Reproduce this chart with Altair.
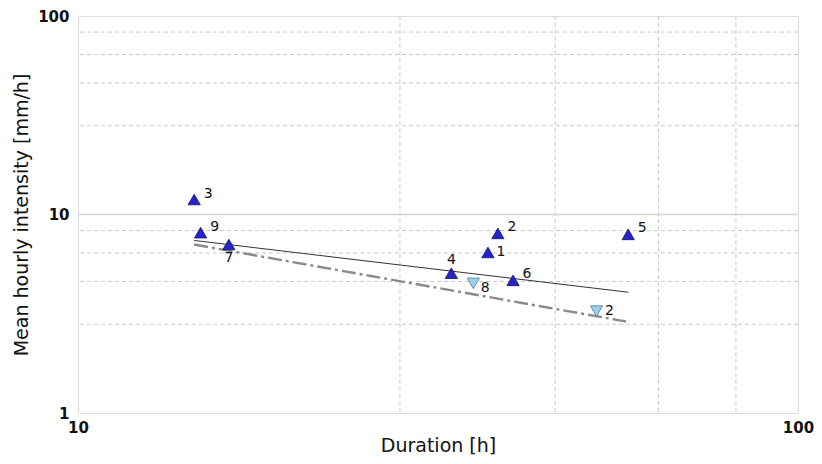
import altair as alt
import pandas as pd

# ---- data ----
up_labels = ["1", "2", "3", "4", "5", "6", "7", "9"]
up_duration = [37.1, 38.3, 14.5, 33.0, 58.1, 40.2, 16.2, 14.8]
up_intensity = [6.44, 8.03, 11.9, 5.06, 7.94, 4.66, 7.06, 8.1]

down_labels = ["8", "2"]
down_duration = [35.4, 52.5]
down_intensity = [4.5, 3.26]

fit1_duration = [14.5, 58.1]
fit1_intensity = [7.40, 4.06]
fit2_duration = [14.5, 57.7]
fit2_intensity = [7.06, 2.89]

x_minor_grid = [28, 46, 64, 82]
y_minor_grid = [2.8, 4.6, 6.4, 8.3, 28, 46, 64, 83]
y_major_grid = [10]

# ---- tables ----
pts = pd.DataFrame({
    "duration": up_duration + down_duration,
    "intensity": up_intensity + down_intensity,
    "label": up_labels + down_labels,
    "series": ["up"] * len(up_labels) + ["down"] * len(down_labels),
})
placement = {
    ("up", "3"): "ur", ("up", "9"): "ur", ("up", "2"): "ur", ("up", "6"): "ur",
    ("up", "5"): "ur", ("up", "1"): "r", ("down", "8"): "rd", ("down", "2"): "r",
    ("up", "7"): "b", ("up", "4"): "a",
}
pts["place"] = [placement[(s, l)] for s, l in zip(pts["series"], pts["label"])]

fit1 = pd.DataFrame({"duration": fit1_duration, "intensity": fit1_intensity})
fit2 = pd.DataFrame({"duration": fit2_duration, "intensity": fit2_intensity})
xg = pd.DataFrame({"duration": x_minor_grid})
yg = pd.DataFrame({"intensity": y_minor_grid})
ymaj = pd.DataFrame({"intensity": y_major_grid})

FONT = "DejaVu Sans"
xs = alt.Scale(type="log", domain=[10, 100], nice=False)
ys = alt.Scale(type="log", domain=[1, 100], nice=False)

X = alt.X("duration:Q", scale=xs,
          axis=alt.Axis(values=[10, 100], title="Duration [h]", grid=False,
                        ticks=False, domain=False, labelFontSize=15, labelFont=FONT,
                        labelFontWeight="bold", labelColor="#111", labelPadding=7,
                        labelFlush=False, titleFont=FONT, titleFontSize=19,
                        titleFontWeight="normal", titleColor="#111", titlePadding=1,
                        format="d"))
Y = alt.Y("intensity:Q", scale=ys,
          axis=alt.Axis(values=[1, 10, 100], title="Mean hourly intensity [mm/h]",
                        grid=False, ticks=False, domain=False, labelFontSize=15,
                        labelFont=FONT, labelFontWeight="bold", labelColor="#111",
                        labelPadding=9, labelFlush=False, titleFont=FONT,
                        titleFontSize=19, titleFontWeight="normal", titleColor="#111",
                        titlePadding=6, format="d"))

vgrid = alt.Chart(xg).mark_rule(color="#c8c8c8", strokeDash=[4, 3], strokeWidth=1).encode(
    x=alt.X("duration:Q", scale=xs))
hgrid = alt.Chart(yg).mark_rule(color="#c8c8c8", strokeDash=[4, 3], strokeWidth=1).encode(
    y=alt.Y("intensity:Q", scale=ys))
hmaj = alt.Chart(ymaj).mark_rule(color="#d4d4d4", strokeWidth=1.5).encode(
    y=alt.Y("intensity:Q", scale=ys))

line1 = alt.Chart(fit1).mark_line(color="#333333", strokeWidth=1).encode(x=X, y=Y)
line2 = alt.Chart(fit2).mark_line(color="#8a8a8a", strokeWidth=2.4,
                                  strokeDash=[14, 4, 3, 4]).encode(
    x=alt.X("duration:Q", scale=xs), y=alt.Y("intensity:Q", scale=ys))

up_pts = alt.Chart(pts).transform_filter(alt.datum.series == "up").mark_point(
    shape="triangle-up", filled=True, size=150, fill="#2424c8", stroke="#10106a",
    strokeWidth=0.8, opacity=1).encode(
    x=alt.X("duration:Q", scale=xs), y=alt.Y("intensity:Q", scale=ys))
down_pts = alt.Chart(pts).transform_filter(alt.datum.series == "down").mark_point(
    shape="triangle-down", filled=True, size=150, fill="#9ccfee", stroke="#4f7f9a",
    strokeWidth=0.8, opacity=1).encode(
    x=alt.X("duration:Q", scale=xs), y=alt.Y("intensity:Q", scale=ys))

offsets = {"ur": (14, -6), "r": (13, 0), "rd": (12, 5), "b": (0, 13), "a": (0, -13)}
texts = []
for key, (dx, dy) in offsets.items():
    texts.append(
        alt.Chart(pts).transform_filter(alt.datum.place == key).mark_text(
            font=FONT, fontSize=14, color="#111", dx=dx, dy=dy,
            align="center", baseline="middle").encode(
            x=alt.X("duration:Q", scale=xs), y=alt.Y("intensity:Q", scale=ys),
            text="label:N"))

chart = alt.layer(vgrid, hgrid, hmaj, line1, line2, up_pts, down_pts, *texts).properties(
    width=720, height=397,
    autosize=alt.AutoSizeParams(type="none"),
    padding={"left": 70, "top": 8, "right": 16, "bottom": 43},
).configure_view(stroke="#a0a0a0", strokeWidth=1.5).configure(background="white")

chart.save("out.html", embed_options={"renderer": "svg", "actions": False})
